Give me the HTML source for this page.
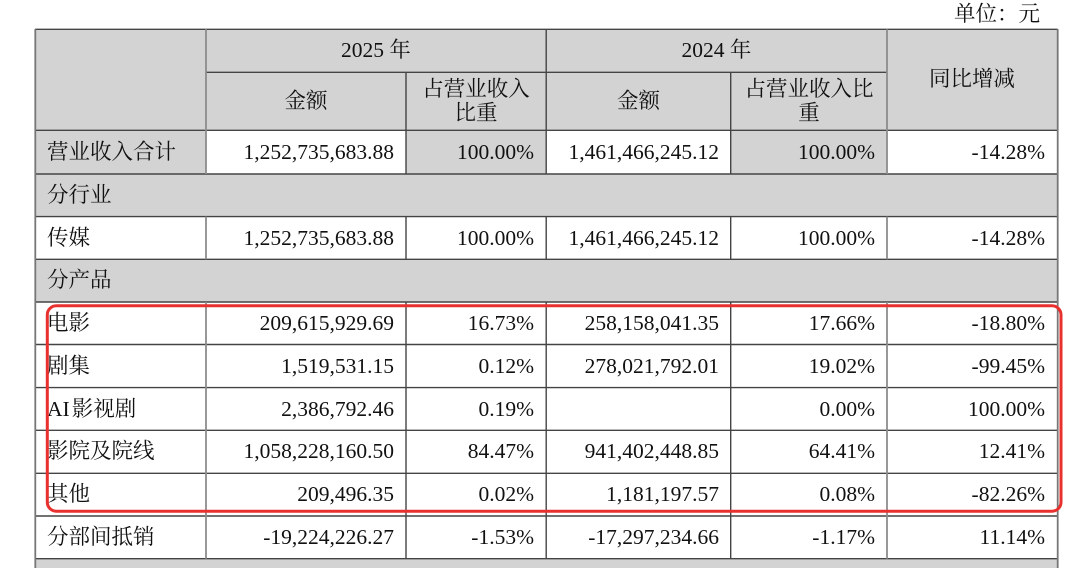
<!DOCTYPE html>
<html><head><meta charset="utf-8">
<style>
html,body{margin:0;padding:0;background:#fff;}
body{width:1080px;height:568px;overflow:hidden;position:relative;font-family:"Liberation Serif","Noto Serif CJK SC",serif;color:#111;}
.bg{position:absolute;background:#d3d3d3;}
.c{position:absolute;display:flex;align-items:center;box-sizing:border-box;font-size:21.5px;white-space:nowrap;line-height:24.5px;}
.r{justify-content:flex-end;padding-right:12px;}
.l{justify-content:flex-start;padding-left:12px;}
.m{justify-content:center;text-align:center;}
svg{position:absolute;left:0;top:0;}
</style></head><body>
<div class="c" style="left:940px;top:1px;width:100px;height:26px;justify-content:flex-end;">单位：元</div>

<!-- backgrounds -->
<div class="bg" style="left:35px;top:29px;width:1022px;height:101px;"></div>
<div class="bg" style="left:35px;top:130px;width:171px;height:44px;"></div>
<div class="bg" style="left:406px;top:130px;width:140px;height:44px;"></div>
<div class="bg" style="left:731px;top:130px;width:156px;height:44px;"></div>
<div class="bg" style="left:35px;top:174px;width:1022px;height:42.5px;"></div>
<div class="bg" style="left:35px;top:259px;width:1022px;height:43px;"></div>
<div class="bg" style="left:35px;top:559px;width:1022px;height:9px;"></div>

<!-- header text -->
<div class="c m" style="left:206px;top:29px;width:340px;height:43px;">2025 年</div>
<div class="c m" style="left:546px;top:29px;width:341px;height:43px;">2024 年</div>
<div class="c m" style="left:206px;top:72px;width:200px;height:58px;">金额</div>
<div class="c m" style="left:406px;top:72px;width:140px;height:58px;">占营业收入<br>比重</div>
<div class="c m" style="left:546px;top:72px;width:185px;height:58px;">金额</div>
<div class="c m" style="left:731px;top:72px;width:156px;height:58px;">占营业收入比<br>重</div>
<div class="c m" style="left:887px;top:29px;width:170px;height:101px;">同比增减</div>

<!-- row 营业收入合计 -->
<div class="c l" style="left:35px;top:130px;width:171px;height:44px;">营业收入合计</div>
<div class="c r" style="left:206px;top:130px;width:200px;height:44px;">1,252,735,683.88</div>
<div class="c r" style="left:406px;top:130px;width:140px;height:44px;">100.00%</div>
<div class="c r" style="left:546px;top:130px;width:185px;height:44px;">1,461,466,245.12</div>
<div class="c r" style="left:731px;top:130px;width:156px;height:44px;">100.00%</div>
<div class="c r" style="left:887px;top:130px;width:170px;height:44px;">-14.28%</div>

<div class="c l" style="left:35px;top:174px;width:300px;height:42.5px;">分行业</div>

<div class="c l" style="left:35px;top:216.5px;width:171px;height:42.5px;">传媒</div>
<div class="c r" style="left:206px;top:216.5px;width:200px;height:42.5px;">1,252,735,683.88</div>
<div class="c r" style="left:406px;top:216.5px;width:140px;height:42.5px;">100.00%</div>
<div class="c r" style="left:546px;top:216.5px;width:185px;height:42.5px;">1,461,466,245.12</div>
<div class="c r" style="left:731px;top:216.5px;width:156px;height:42.5px;">100.00%</div>
<div class="c r" style="left:887px;top:216.5px;width:170px;height:42.5px;">-14.28%</div>

<div class="c l" style="left:35px;top:259px;width:300px;height:43px;">分产品</div>

<div class="c l" style="left:35px;top:302px;width:171px;height:42.5px;">电影</div>
<div class="c r" style="left:206px;top:302px;width:200px;height:42.5px;">209,615,929.69</div>
<div class="c r" style="left:406px;top:302px;width:140px;height:42.5px;">16.73%</div>
<div class="c r" style="left:546px;top:302px;width:185px;height:42.5px;">258,158,041.35</div>
<div class="c r" style="left:731px;top:302px;width:156px;height:42.5px;">17.66%</div>
<div class="c r" style="left:887px;top:302px;width:170px;height:42.5px;">-18.80%</div>

<div class="c l" style="left:35px;top:344.5px;width:171px;height:43px;">剧集</div>
<div class="c r" style="left:206px;top:344.5px;width:200px;height:43px;">1,519,531.15</div>
<div class="c r" style="left:406px;top:344.5px;width:140px;height:43px;">0.12%</div>
<div class="c r" style="left:546px;top:344.5px;width:185px;height:43px;">278,021,792.01</div>
<div class="c r" style="left:731px;top:344.5px;width:156px;height:43px;">19.02%</div>
<div class="c r" style="left:887px;top:344.5px;width:170px;height:43px;">-99.45%</div>

<div class="c l" style="left:35px;top:387.5px;width:171px;height:42.5px;">AI<span style="margin-left:2px">影视剧</span></div>
<div class="c r" style="left:206px;top:387.5px;width:200px;height:42.5px;">2,386,792.46</div>
<div class="c r" style="left:406px;top:387.5px;width:140px;height:42.5px;">0.19%</div>
<div class="c r" style="left:731px;top:387.5px;width:156px;height:42.5px;">0.00%</div>
<div class="c r" style="left:887px;top:387.5px;width:170px;height:42.5px;">100.00%</div>

<div class="c l" style="left:35px;top:430px;width:171px;height:43px;">影院及院线</div>
<div class="c r" style="left:206px;top:430px;width:200px;height:43px;">1,058,228,160.50</div>
<div class="c r" style="left:406px;top:430px;width:140px;height:43px;">84.47%</div>
<div class="c r" style="left:546px;top:430px;width:185px;height:43px;">941,402,448.85</div>
<div class="c r" style="left:731px;top:430px;width:156px;height:43px;">64.41%</div>
<div class="c r" style="left:887px;top:430px;width:170px;height:43px;">12.41%</div>

<div class="c l" style="left:35px;top:473px;width:171px;height:43px;">其他</div>
<div class="c r" style="left:206px;top:473px;width:200px;height:43px;">209,496.35</div>
<div class="c r" style="left:406px;top:473px;width:140px;height:43px;">0.02%</div>
<div class="c r" style="left:546px;top:473px;width:185px;height:43px;">1,181,197.57</div>
<div class="c r" style="left:731px;top:473px;width:156px;height:43px;">0.08%</div>
<div class="c r" style="left:887px;top:473px;width:170px;height:43px;">-82.26%</div>

<div class="c l" style="left:35px;top:516px;width:171px;height:43px;">分部间抵销</div>
<div class="c r" style="left:206px;top:516px;width:200px;height:43px;">-19,224,226.27</div>
<div class="c r" style="left:406px;top:516px;width:140px;height:43px;">-1.53%</div>
<div class="c r" style="left:546px;top:516px;width:185px;height:43px;">-17,297,234.66</div>
<div class="c r" style="left:731px;top:516px;width:156px;height:43px;">-1.17%</div>
<div class="c r" style="left:887px;top:516px;width:170px;height:43px;">11.14%</div>

<svg width="1080" height="568" viewBox="0 0 1080 568">
<g stroke="#444" stroke-width="1.4" fill="none">
<line x1="35" y1="29.3" x2="1057.7" y2="29.3"/>
<line x1="206" y1="72.3" x2="887" y2="72.3"/>
<line x1="35" y1="130.3" x2="1057.7" y2="130.3"/>
<line x1="35" y1="174" x2="1057.7" y2="174"/>
<line x1="35" y1="216.6" x2="1057.7" y2="216.6"/>
<line x1="35" y1="259.3" x2="1057.7" y2="259.3"/>
<line x1="35" y1="302" x2="1057.7" y2="302"/>
<line x1="35" y1="344.5" x2="1057.7" y2="344.5"/>
<line x1="35" y1="387.6" x2="1057.7" y2="387.6"/>
<line x1="35" y1="430.3" x2="1057.7" y2="430.3"/>
<line x1="35" y1="473.3" x2="1057.7" y2="473.3"/>
<line x1="35" y1="516" x2="1057.7" y2="516"/>
<line x1="35" y1="558.7" x2="1057.7" y2="558.7"/>
<!-- verticals dark -->
<line x1="406" y1="72.3" x2="406" y2="174"/>
<line x1="406" y1="216.6" x2="406" y2="259.3"/>
<line x1="406" y1="302" x2="406" y2="558.7"/>
<line x1="546.2" y1="29.3" x2="546.2" y2="174"/>
<line x1="546.2" y1="216.6" x2="546.2" y2="259.3"/>
<line x1="546.2" y1="302" x2="546.2" y2="558.7"/>
<line x1="730.7" y1="72.3" x2="730.7" y2="174"/>
<line x1="730.7" y1="216.6" x2="730.7" y2="259.3"/>
<line x1="730.7" y1="302" x2="730.7" y2="558.7"/>
</g>
<g stroke="#777" stroke-width="1.8" fill="none">
<line x1="35.3" y1="29" x2="35.3" y2="568"/>
<line x1="1057.7" y1="29" x2="1057.7" y2="568"/>
</g>
<g stroke="#8c8c8c" stroke-width="1.8" fill="none">
<line x1="206" y1="29.3" x2="206" y2="174"/>
<line x1="206" y1="216.6" x2="206" y2="259.3"/>
<line x1="206" y1="302" x2="206" y2="558.7"/>
<line x1="887" y1="29.3" x2="887" y2="174"/>
<line x1="887" y1="216.6" x2="887" y2="259.3"/>
<line x1="887" y1="302" x2="887" y2="558.7"/>
</g>
<rect x="47.3" y="305.8" width="1013.7" height="205.4" rx="9" ry="9" fill="none" stroke="#e8302e" stroke-width="3"/>
</svg>
</body></html>
